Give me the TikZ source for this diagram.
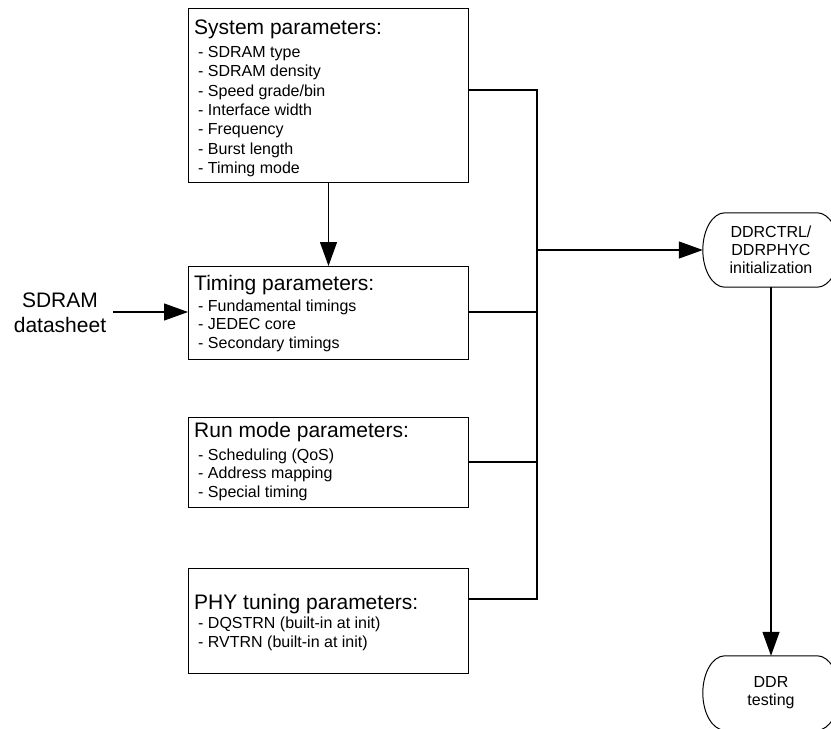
\documentclass[tikz,border=0pt]{standalone}
\usepackage{fontspec}
\setmainfont{Liberation Sans}
\usetikzlibrary{arrows.meta}
\newcommand\termoutline[1]{%
  \draw[line width=1pt] ([xshift=22pt]#1.north west) -- ([xshift=-22pt]#1.north east)
    .. controls +(12.1,0) and +(0,-20.4) .. (#1.east)
    .. controls +(0,20.4) and +(12.1,0) .. ([xshift=-22pt]#1.south east)
    -- ([xshift=22pt]#1.south west)
    .. controls +(-12.1,0) and +(0,20.4) .. (#1.west)
    .. controls +(0,-20.4) and +(-12.1,0) .. ([xshift=22pt]#1.north west) -- cycle;}
\begin{document}
\begin{tikzpicture}[x=1pt,y=-1pt,
 box/.style={draw,line width=1pt,minimum width=280pt,inner sep=0pt,anchor=north west},
 ttl/.style={anchor=base west,inner sep=0pt,font=\fontsize{21}{25}\selectfont},
 itm/.style={anchor=base west,inner sep=0pt,font=\fontsize{16}{19}\selectfont},
 wire/.style={line width=1.2pt},
 arr/.style={wire,-{Triangle[length=24pt,width=17pt]}},
 term/.style={minimum width=136pt,minimum height=74pt,align=center,font=\fontsize{16}{18}\selectfont,inner sep=0pt}
]
\useasboundingbox (0,0) rectangle (831,729);

% System parameters
\node[box,minimum height=174pt] (sys) at (188,8) {};
\node[ttl] (systtl) at (194,34) {System parameters:};
\foreach \t [count=\i] in {SDRAM type,SDRAM density,Speed grade/bin,Interface width,Frequency,Burst length,Timing mode}
  \node[itm] (sys\i) at (198,{57.5+(\i-1)*19.3}) {- \t};

% Timing parameters
\node[box,minimum height=93pt] (tim) at (188,266) {};
\node[ttl] (timttl) at (194,290) {Timing parameters:};
\foreach \t [count=\i] in {Fundamental timings,JEDEC core,Secondary timings}
  \node[itm] (tim\i) at (198,{311+(\i-1)*18.5}) {- \t};

% Run mode parameters
\node[box,minimum height=90pt] (run) at (188,417) {};
\node[ttl] (runttl) at (194,437) {Run mode parameters:};
\foreach \t [count=\i] in {Scheduling (QoS),Address mapping,Special timing}
  \node[itm] (run\i) at (198,{460+(\i-1)*18.5}) {- \t};

% PHY tuning parameters
\node[box,minimum height=105pt] (phy) at (188,568) {};
\node[ttl] (phyttl) at (194,609) {PHY tuning parameters:};
\foreach \t [count=\i] in {DQSTRN (built-in at init),RVTRN (built-in at init)}
  \node[itm] (phy\i) at (198,{628+(\i-1)*19}) {- \t};

% SDRAM datasheet
\node[align=center,inner sep=0pt,anchor=base,font=\fontsize{21}{25}\selectfont] (ds) at (60,332) {SDRAM\\datasheet};

% terminators
\node[term] (ddr) at (771,250) {DDRCTRL/\\DDRPHYC\\initialization};
\node[term] (tst) at (771,693) {DDR\\testing};
\termoutline{ddr}
\termoutline{tst}

% connectors
\coordinate (dsR) at (113,312);
\coordinate (jtop) at (537,90);
\coordinate (jmain) at (537,250);
\coordinate (jbot) at (537,599);
\draw[arr] (sys.south) -- (tim.north);
\draw[arr] (dsR) -- (dsR -| tim.west);
\draw[wire] (sys.east |- jtop) -- (jtop) -- (jbot) -- (phy.east |- jbot);
\draw[wire] (tim.east |- dsR) -- (jmain |- dsR);
\draw[wire] (run.east |- 0,462) -- (537,462);
\draw[arr] (jmain) -- (ddr.west);
\draw[arr] (ddr.south) -- (tst.north);
\end{tikzpicture}
\end{document}
